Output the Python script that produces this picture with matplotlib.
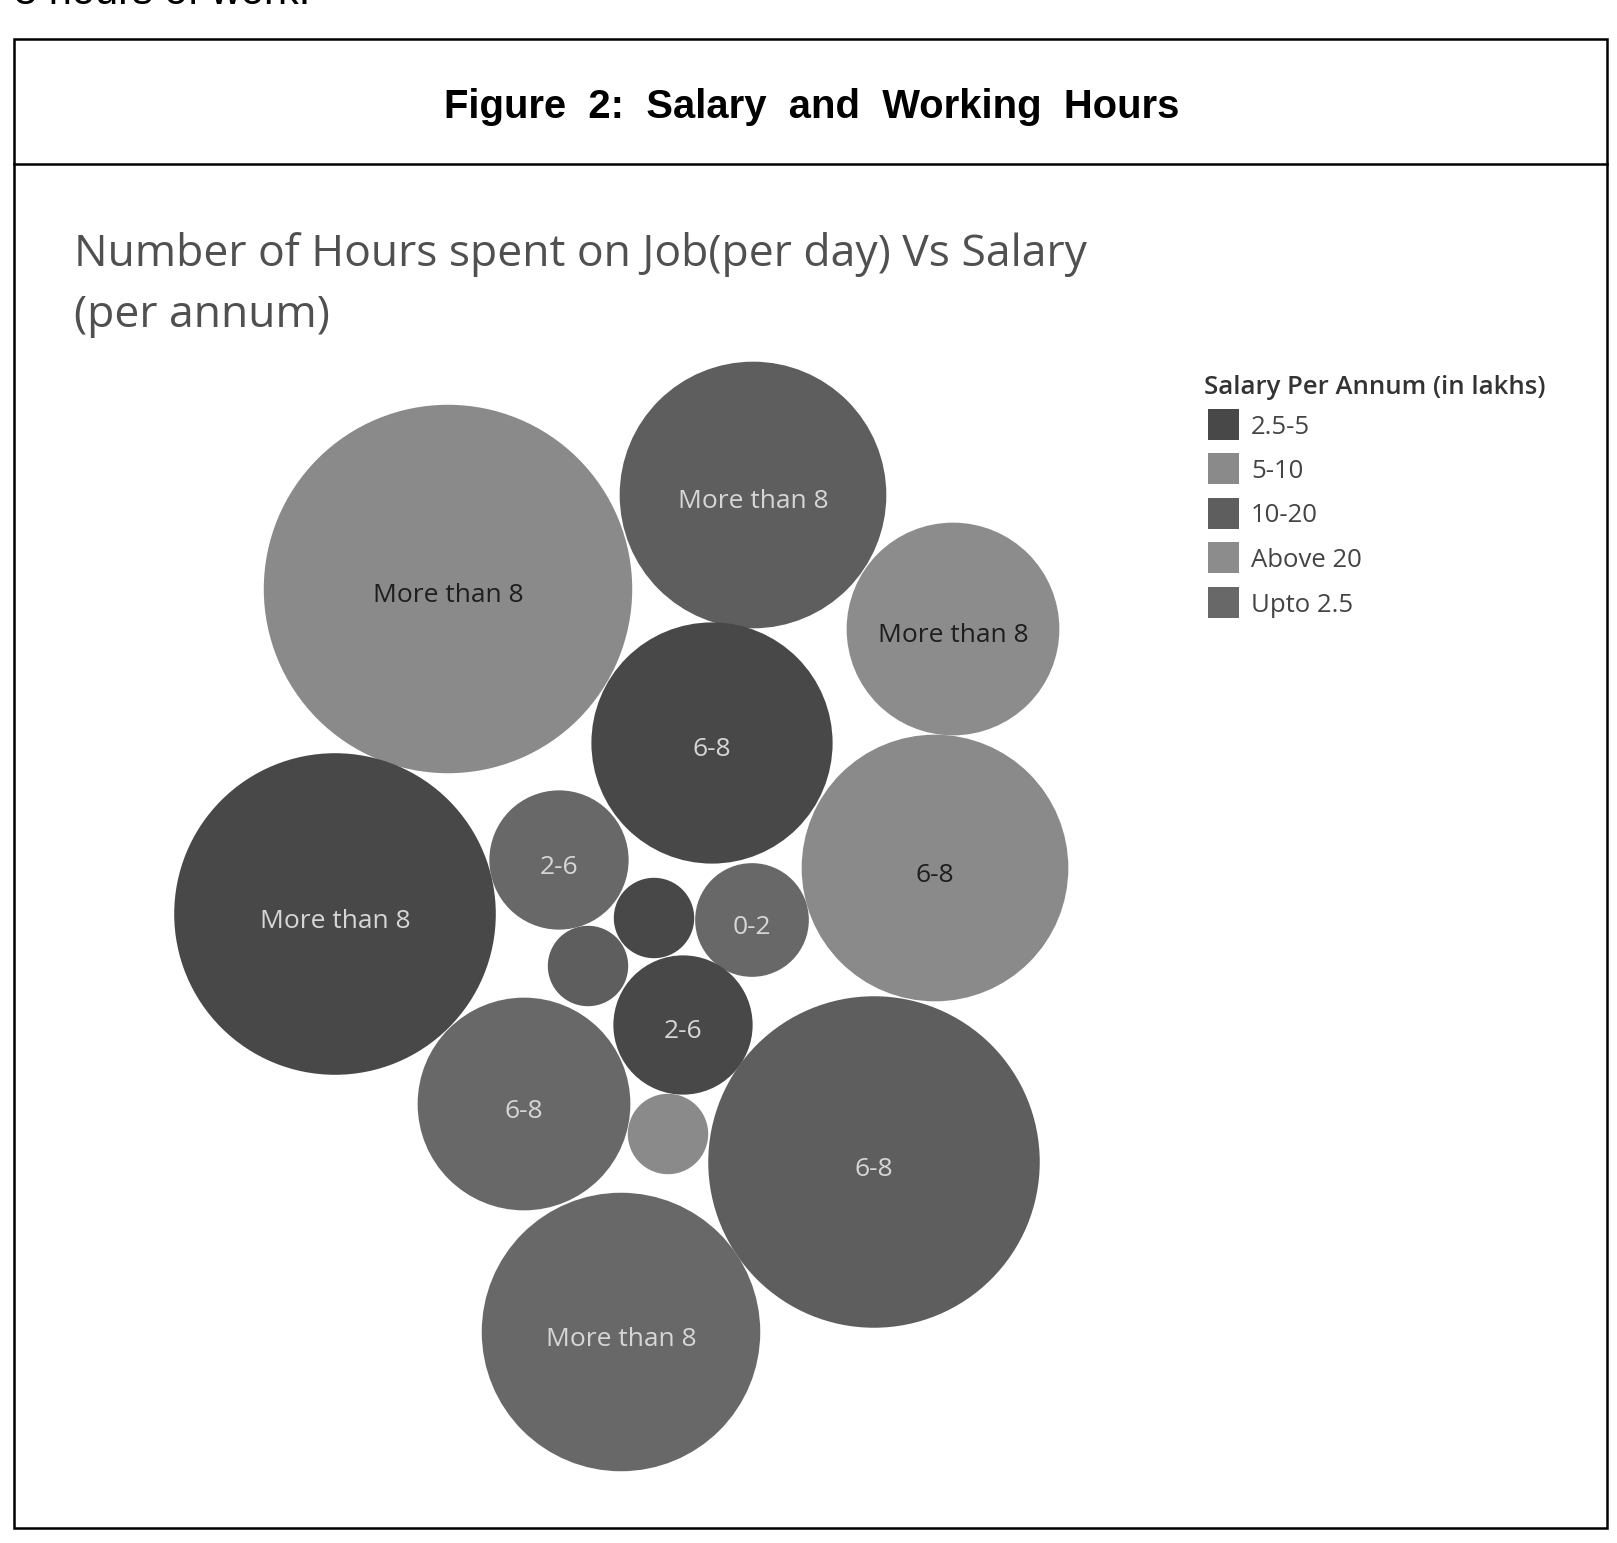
import matplotlib.pyplot as plt
from matplotlib.patches import Circle, Rectangle
import numpy as np

# bubble data: hours per day (label), salary band (colour), respondents (size)
hours = ['More than 8', 'More than 8', 'More than 8', '6-8', '6-8', 'More than 8',
         '2-6', '0-2', '0-2', '2-6', '2-6', '6-8', '2-6', '6-8', 'More than 8']
salary = ['5-10', '10-20', 'Above 20', '2.5-5', '5-10', '2.5-5',
          'Upto 2.5', '2.5-5', 'Upto 2.5', '10-20', '2.5-5', 'Upto 2.5', '5-10', '10-20', 'Upto 2.5']
counts = [21, 11, 7, 9, 11, 16, 3, 1, 2, 1, 3, 7, 1, 17, 12]

salary_bands = ['2.5-5', '5-10', '10-20', 'Above 20', 'Upto 2.5']

# packed-bubble layout (centres in figure pixels, as placed by the packing)
layout_x = [448, 753, 953, 712, 935, 335, 559, 654, 752, 588, 683, 524, 668, 874, 621]
layout_y = [589, 495, 629, 743, 868, 914, 860, 918, 920, 966, 1025, 1104, 1134, 1162, 1332]

band_colors = {'2.5-5': '#484848', '5-10': '#8a8a8a', '10-20': '#5e5e5e',
               'Above 20': '#8c8c8c', 'Upto 2.5': '#686868'}
light_bands = ['5-10', 'Above 20']

W, H = 1617, 1543
fig = plt.figure(figsize=(W / 100, H / 100), dpi=100)
ax = fig.add_axes([0, 0, 1, 1])
ax.set_xlim(0, W)
ax.set_ylim(H, 0)
ax.axis('off')

# page bits: cut-off text line from the page above, and the framed box
ax.text(14, 4, '8 hours of work.', fontsize=30, family='Liberation Sans', va='baseline', ha='left', color='black')
ax.add_patch(Rectangle((14, 39), 1593, 1489, fill=False, lw=1.8, ec='black'))
ax.plot([14, 1607], [164, 164], color='black', lw=1.8)
ax.text(812, 107, 'Figure  2:  Salary  and  Working  Hours', fontsize=28.8, fontweight='bold',
        family='Liberation Sans', ha='center', va='center', color='black')

ax.text(74, 266, 'Number of Hours spent on Job(per day) Vs Salary', fontsize=32,
        family='Open Sans', color='#505050', va='baseline', ha='left')
ax.text(74, 327, '(per annum)', fontsize=32, family='Open Sans', color='#505050', va='baseline', ha='left')

# bubbles: area proportional to count
unit_r = 40.2
for h, s, c, x, y in zip(hours, salary, counts, layout_x, layout_y):
    r = unit_r * np.sqrt(c)
    ax.add_patch(Circle((x, y), r, color=band_colors[s], lw=0))
    if c > 1:
        tc = '#1e1e1e' if s in light_bands else '#d6d6d6'
        ax.text(x, y + 7, h, fontsize=19, family='Open Sans', color=tc, ha='center', va='center')

# legend
ax.text(1204, 394, 'Salary Per Annum (in lakhs)', fontsize=18.5, fontweight='semibold',
        family='Open Sans', color='#333333', va='baseline', ha='left')
for i, b in enumerate(salary_bands):
    yc = 424 + i * 44.5
    ax.add_patch(Rectangle((1208, yc - 15.5), 31, 31, color=band_colors[b], lw=0))
    ax.text(1251, yc + 3, b, fontsize=18.5, family='Open Sans', color='#444444', va='center', ha='left')

fig.savefig('out.png', dpi=100)
